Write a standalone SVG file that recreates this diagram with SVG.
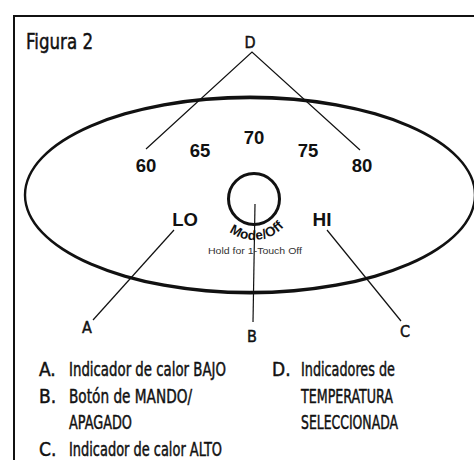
<svg xmlns="http://www.w3.org/2000/svg" width="474" height="460" viewBox="0 0 474 460">
<defs>
<style>
.cond{font-family:"DejaVu Sans Condensed","DejaVu Sans","Liberation Sans",sans-serif;font-stretch:condensed;fill:#111;stroke:#111;stroke-width:0.45}
.num{font-family:"Liberation Sans",Arial,sans-serif;font-weight:bold;fill:#111;text-anchor:middle}
.ln{stroke:#111;stroke-width:1.2;fill:none}
</style>
<path id="arc" d="M 213,199 A 41,41 0 0 0 295,199"/>
</defs>
<rect width="474" height="460" fill="#fff"/>
<g id="frame">
<path d="M14,460 V16 H474" fill="none" stroke="#111" stroke-width="2"/>
</g>
<text class="cond" x="26" y="49" font-size="22" textLength="67" lengthAdjust="spacingAndGlyphs">Figura 2</text>
<g id="connectors">
<path class="ln" d="M146,149 L252,52 L360,150"/>
<path class="ln" d="M174,230 L93,320"/>
<path class="ln" d="M255,204 L253,322"/>
<path class="ln" d="M327,230 L401,321"/>
</g>
<g id="panel">
<path fill="#111" fill-rule="evenodd" d="M 23.8,195 A 226.2,99.4 0 1 0 476.2,195 A 226.2,99.4 0 1 0 23.8,195 Z M 26.2,195 A 223.8,95.8 0 1 0 473.8,195 A 223.8,95.8 0 1 0 26.2,195 Z"/>
</g>
<g id="temps">
<text class="num" x="146" y="172" font-size="18.5">60</text>
<text class="num" x="200" y="157" font-size="18.5">65</text>
<text class="num" x="254" y="144" font-size="18.5">70</text>
<text class="num" x="308" y="157" font-size="18.5">75</text>
<text class="num" x="362" y="172" font-size="18.5">80</text>
</g>
<g id="lo"><text class="num" x="185" y="226" font-size="18.5">LO</text></g>
<g id="hi"><text class="num" x="322" y="226" font-size="19">HI</text></g>
<g id="button">
<circle cx="254" cy="199" r="25.5" fill="none" stroke="#111" stroke-width="3"/>
<text font-family="Liberation Sans,Arial,sans-serif" font-weight="bold" font-size="13.5" letter-spacing="0.3" fill="#111" text-anchor="middle"><textPath href="#arc" startOffset="53%">Mode/Off</textPath></text>
<text x="255" y="254" font-family="Liberation Sans,Arial,sans-serif" font-size="9.5" fill="#333" text-anchor="middle" textLength="94" lengthAdjust="spacingAndGlyphs">Hold for 1-Touch Off</text>
</g>
<g id="labelD"><text class="cond" x="250" y="48" font-size="16" text-anchor="middle">D</text></g>
<g id="labelA"><text class="cond" x="87" y="333" font-size="16" text-anchor="middle">A</text></g>
<g id="labelB"><text class="cond" x="252" y="342" font-size="16" text-anchor="middle">B</text></g>
<g id="labelC"><text class="cond" x="405" y="337" font-size="16" text-anchor="middle">C</text></g>
<g id="legend" font-size="19">
<text class="cond" x="39" y="376">A.</text>
<text class="cond" x="69" y="376" textLength="157" lengthAdjust="spacingAndGlyphs">Indicador de calor BAJO</text>
<text class="cond" x="39" y="402.5">B.</text>
<text class="cond" x="69" y="402.5" textLength="123" lengthAdjust="spacingAndGlyphs">Botón de MANDO/</text>
<text class="cond" x="69" y="429" textLength="63" lengthAdjust="spacingAndGlyphs">APAGADO</text>
<text class="cond" x="39" y="455.5">C.</text>
<text class="cond" x="69" y="455.5" textLength="153" lengthAdjust="spacingAndGlyphs">Indicador de calor ALTO</text>
<text class="cond" x="272" y="376">D.</text>
<text class="cond" x="301" y="376" textLength="94" lengthAdjust="spacingAndGlyphs">Indicadores de</text>
<text class="cond" x="301" y="402.5" textLength="92" lengthAdjust="spacingAndGlyphs">TEMPERATURA</text>
<text class="cond" x="301" y="429" textLength="97" lengthAdjust="spacingAndGlyphs">SELECCIONADA</text>
</g>
</svg>
